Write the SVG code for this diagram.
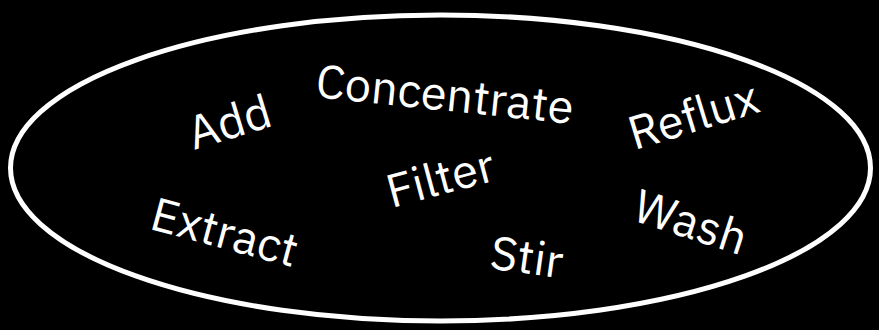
<svg xmlns="http://www.w3.org/2000/svg" width="879" height="330" viewBox="0 0 879 330">
<style>
.w{font-family:"IBM Plex Sans","Noto Sans",Inter,sans-serif;font-size:47px;fill:#fff;text-anchor:middle;dominant-baseline:central}
</style>
<rect width="879" height="330" fill="#000"/>
<g id="cloud">
<ellipse cx="440.5" cy="168" rx="430" ry="153" fill="none" stroke="#fff" stroke-width="5"/>
</g>
<g id="connectors"></g>
<g id="add"><text class="w" transform="translate(229,121) rotate(-17)">Add</text></g>
<g id="concentrate"><text class="w" transform="translate(445,93) rotate(6)">Concentrate</text></g>
<g id="reflux"><text class="w" transform="translate(693,114) rotate(-17)">Reflux</text></g>
<g id="filter"><text class="w" transform="translate(440,177) rotate(-15)">Filter</text></g>
<g id="extract"><text class="w" transform="translate(225,231) rotate(15)">Extract</text></g>
<g id="stir"><text class="w" transform="translate(527,256) rotate(8)">Stir</text></g>
<g id="wash"><text class="w" transform="translate(691,221) rotate(18)">Wash</text></g>
</svg>
